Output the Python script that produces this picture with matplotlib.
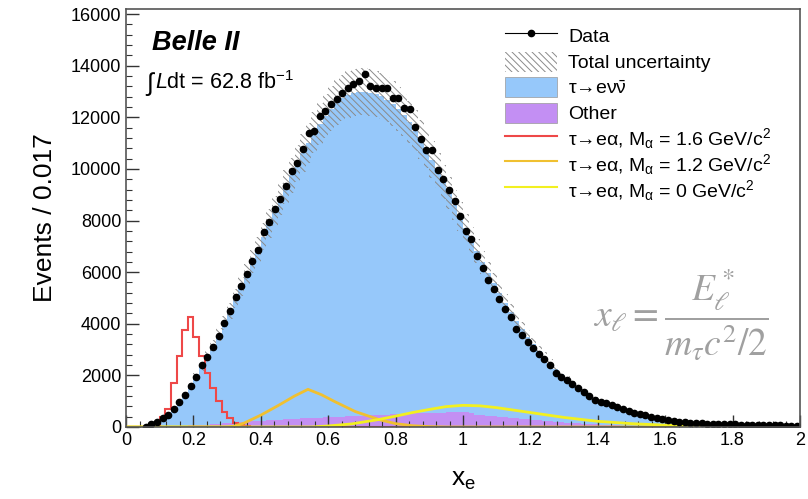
import numpy as np
import matplotlib
matplotlib.use("Agg")
import matplotlib.pyplot as plt
from matplotlib.patches import Patch, Rectangle
from matplotlib.lines import Line2D
from matplotlib.legend_handler import HandlerPatch

plt.rcParams['font.family'] = ['Liberation Sans', 'DejaVu Sans']
plt.rcParams['mathtext.fontset'] = 'custom'
plt.rcParams['mathtext.rm'] = 'Liberation Sans'
plt.rcParams['mathtext.it'] = 'Liberation Sans:italic'
plt.rcParams['mathtext.bf'] = 'Liberation Sans:bold'
plt.rcParams['hatch.linewidth'] = 0.7

# 120 bins of width 1/60 between 0 and 2
x_lo, x_hi, n_bins = 0.0, 2.0, 120

data = [np.nan, np.nan, np.nan, 10, 110, 210, 330, 480, 710, 970,
        1230, 1570, 1950, 2400, 2700, 3100, 3530, 4030, 4500, 5040,
        5480, 5940, 6420, 6850, 7550, 7930, 8430, 8840, 9330, 9940,
        10220, 10780, 11400, 11470, 12050, 12250, 12530, 12700, 12960, 13150,
        13310, 13410, 13670, 13210, 13150, 13130, 13130, 12760, 12760, 12360,
        12310, 11640, 11170, 10730, 10730, 9950, 9620, 9180, 8750, 8170,
        7580, 7290, 6640, 6160, 5710, 5350, 4960, 4570, 4260, 3790,
        3570, 3310, 3060, 2820, 2630, 2410, 2080, 1950, 1830, 1670,
        1500, 1370, 1200, 1060, 960, 920, 840, 760, 680, 630,
        560, 500, 450, 400, 350, 310, 270, 230, 200, 185,
        170, 155, 140, 135, 130, 125, 120, 110, 100, 95,
        90, 85, 80, 80, 70, 65, 60, 55, 50, 45]

tau_evv = [0, 0, 0, 15, 100, 210, 330, 480, 690, 940,
           1200, 1520, 1880, 2270, 2655, 3040, 3455, 3890, 4345, 4810,
           5265, 5720, 6185, 6650, 7135, 7620, 8085, 8540, 9000, 9450,
           9880, 10290, 10680, 11050, 11390, 11690, 11960, 12180, 12350, 12470,
           12540, 12570, 12550, 12510, 12440, 12340, 12210, 12040, 11830, 11580,
           11290, 10960, 10600, 10215, 9810, 9385, 8940, 8495, 8040, 7590,
           7140, 6700, 6340, 5930, 5530, 5150, 4780, 4430, 4100, 3780,
           3480, 3200, 2940, 2690, 2460, 2240, 2040, 1855, 1680, 1525,
           1380, 1245, 1120, 1000, 900, 810, 730, 658, 595, 532,
           478, 429, 384, 343, 307, 275, 243, 215, 192, 174,
           155, 141, 130, 121, 114, 106, 100, 93, 87, 82,
           77, 73, 69, 65, 61, 57, 53, 49, 46, 42]

other = [0, 0, 0, 0, 0, 0, 10, 20, 30, 40,
         50, 60, 70, 80, 95, 110, 125, 140, 155, 170,
         185, 200, 215, 230, 245, 260, 275, 290, 300, 310,
         320, 330, 340, 350, 360, 370, 380, 390, 400, 410,
         420, 430, 440, 450, 460, 470, 480, 490, 500, 510,
         520, 530, 540, 545, 550, 555, 560, 565, 570, 570,
         570, 560, 480, 460, 440, 420, 400, 380, 360, 340,
         320, 300, 280, 260, 240, 220, 200, 185, 170, 155,
         140, 125, 110, 100, 90, 80, 70, 62, 55, 48,
         42, 36, 31, 27, 23, 20, 17, 15, 13, 11,
         10, 9, 8, 7, 6, 6, 5, 5, 5, 5,
         5, 5, 5, 5, 5, 5, 5, 5, 4, 4]

total_unc = [0, 0, 0, 2, 8, 15, 25, 35, 50, 70,
             90, 110, 135, 165, 190, 220, 250, 280, 315, 350,
             380, 415, 450, 480, 515, 550, 585, 620, 650, 680,
             715, 745, 770, 800, 820, 845, 865, 880, 890, 900,
             905, 910, 910, 905, 900, 890, 880, 865, 845, 830,
             805, 785, 760, 735, 705, 680, 650, 620, 590, 560,
             530, 500, 470, 445, 415, 390, 360, 335, 310, 290,
             265, 245, 225, 205, 190, 170, 155, 145, 130, 118,
             106, 96, 86, 77, 69, 62, 56, 50, 45, 41,
             36, 33, 29, 26, 23, 21, 18, 16, 14, 13,
             12, 11, 10, 9, 8, 8, 7, 7, 6, 6,
             6, 5, 5, 5, 5, 4, 4, 4, 4, 3]

# M_alpha = 1.6 GeV/c^2 signal, same binning
sig_16 = [0, 0, 0, 0, 0, 0, 400, 700, 1700, 2750,
          3770, 4250, 3500, 2750, 2100, 1500, 1000, 600, 330, 150,
          60, 20] + [0] * 98

# M_alpha = 1.2 and 0 GeV/c^2 signals (smooth curves)
sig_12_x = [0.0, 0.30, 0.32, 0.35, 0.40, 0.45, 0.50, 0.54, 0.58, 0.62,
            0.68, 0.75, 0.80, 0.85, 0.90, 0.95, 2.0]
sig_12_y = [0, 0, 30, 150, 460, 820, 1200, 1460, 1250, 980,
            600, 290, 130, 50, 15, 0, 0]
sig_0_x = [0.0, 0.55, 0.60, 0.67, 0.75, 0.80, 0.85, 0.90, 0.95, 1.00,
           1.05, 1.10, 1.20, 1.30, 1.40, 1.50, 1.60, 1.70, 1.80, 1.90, 2.0]
sig_0_y = [0, 0, 40, 120, 290, 420, 560, 680, 790, 840,
           820, 750, 560, 370, 220, 130, 70, 30, 10, 0, 0]

c_blue = '#96c8fa'
c_purple = '#c38ff3'
c_red = '#ee4848'
c_orange = '#f0c030'
c_yellow = '#f2f020'
c_hatch = '#8a8a8a'
hatch = '\\\\\\\\\\'

edges = np.linspace(x_lo, x_hi, n_bins + 1)
centers = 0.5 * (edges[:-1] + edges[1:])
data = np.array(data, dtype=float)
tau_evv = np.array(tau_evv, dtype=float)
other = np.array(other, dtype=float)
total_unc = np.array(total_unc, dtype=float)
stack_total = other + tau_evv

fig = plt.figure(figsize=(8.08, 4.99), dpi=100)
ax = fig.add_axes([0.156, 0.1443, 0.834, 0.8377])

# stacked MC
ax.stairs(other, edges, fill=True, color=c_purple, lw=0)
ax.stairs(stack_total, edges, baseline=other, fill=True, color=c_blue, lw=0)

# uncertainty band
lo = stack_total - total_unc
hi = stack_total + total_unc
ax.fill_between(edges, np.append(lo, lo[-1]), np.append(hi, hi[-1]), step='post',
                facecolor='none', edgecolor=c_hatch, hatch=hatch, linewidth=0)

# signals
ax.stairs(sig_16, edges, color=c_red, lw=1.5)
ax.plot(sig_12_x, sig_12_y, color=c_orange, lw=2)
ax.plot(sig_0_x, sig_0_y, color=c_yellow, lw=2)

# data
ax.errorbar(centers, data, yerr=np.sqrt(np.nan_to_num(data)), xerr=0.5 / 60,
            fmt='o', color='black', ms=4.5, lw=0.8, capsize=0)

ax.set_xlim(x_lo, x_hi)
ax.set_ylim(0, 16200)
ax.set_xticks(np.arange(0, 2.01, 0.2))
ax.set_xticklabels(['0', '0.2', '0.4', '0.6', '0.8', '1', '1.2', '1.4', '1.6', '1.8', '2'])
ax.set_xticks(np.arange(0, 2.001, 0.04), minor=True)
ax.set_yticks(np.arange(0, 16001, 2000))
ax.set_yticks(np.arange(0, 16001, 400), minor=True)
ax.tick_params(which='both', direction='in', labelsize=13, color='#333333')
ax.tick_params(which='major', length=9, width=1.0)
ax.tick_params(which='minor', length=4.5, width=0.8)
for s in ax.spines.values():
    s.set_color('#555555')
    s.set_linewidth(1.2)

ax.set_ylabel('Events / 0.017', fontsize=19, labelpad=10)
ax.set_xlabel(r'x$_\mathregular{e}$', fontsize=19, labelpad=14)

ax.text(0.038, 0.918, 'Belle II', transform=ax.transAxes, fontsize=19.5,
        fontweight='bold', fontstyle='italic', va='center')
ax.text(0.028, 0.82, r'$\int$', transform=ax.transAxes, fontsize=18, va='center')
ax.text(0.043, 0.825, r'$\mathit{L}$dt = 62.8 fb$^{\mathregular{-1}}$',
        transform=ax.transAxes, fontsize=15.5, va='center')
ax.text(0.823, 0.268, r'$x_\ell = \dfrac{E^*_\ell}{m_\tau c^2/2}$', transform=ax.transAxes,
        fontsize=27, color='#a0a0a0', ha='center', va='center', math_fontfamily='stix')


def short_patch(legend, orig_handle, xdescent, ydescent, width, height, fontsize):
    h = height * 0.78
    return Rectangle((-xdescent, -ydescent + (height - h) / 2), width, h)


handles = [
    Line2D([], [], color='black', marker='o', ms=4.5, lw=0.8),
    Patch(facecolor='white', edgecolor=c_hatch, hatch=hatch, lw=0),
    Patch(facecolor=c_blue, edgecolor='#999999', lw=0.5),
    Patch(facecolor=c_purple, edgecolor='#999999', lw=0.5),
    Line2D([], [], color=c_red, lw=1.5),
    Line2D([], [], color=c_orange, lw=1.5),
    Line2D([], [], color=c_yellow, lw=1.5),
]
labels = [
    'Data',
    'Total uncertainty',
    r'τ→eν$\bar{\mathregular{ν}}$',
    'Other',
    r'τ→eα, M$_{\mathregular{α}}$ = 1.6 GeV/c$^{\mathregular{2}}$',
    r'τ→eα, M$_{\mathregular{α}}$ = 1.2 GeV/c$^{\mathregular{2}}$',
    r'τ→eα, M$_{\mathregular{α}}$ = 0 GeV/c$^{\mathregular{2}}$',
]
ax.legend(handles, labels, loc='upper left', bbox_to_anchor=(0.562, 0.9665), frameon=False,
          fontsize=14, handlelength=2.7, handleheight=1.66, labelspacing=0.0,
          handletextpad=0.55, borderaxespad=0.0, borderpad=0.0,
          handler_map={Patch: HandlerPatch(patch_func=short_patch)})

fig.savefig('out.png', dpi=100)
